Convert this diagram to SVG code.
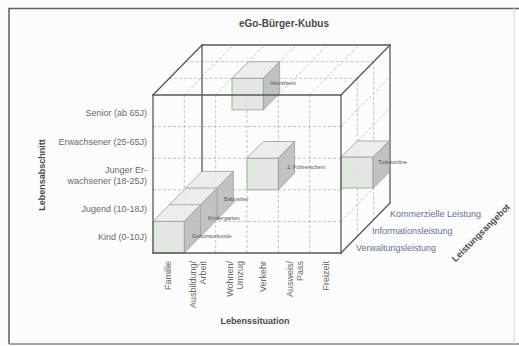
<svg xmlns="http://www.w3.org/2000/svg" width="519" height="346" viewBox="0 0 519 346">
<style>
.lbl{font-family:"Liberation Sans",Arial,sans-serif;font-size:9px;fill:#6a6a6a}
.rl{font-family:"Liberation Sans",Arial,sans-serif;font-size:9px;fill:#66728e}
.ttl{font-family:"Liberation Sans",Arial,sans-serif;font-size:9px;font-weight:bold;fill:#4a4a4a}
.tiny{font-family:"Liberation Sans",Arial,sans-serif;font-size:5.5px;fill:#555}
.dash{stroke:#b4b4b4;stroke-width:0.8;stroke-dasharray:3 2;fill:none}
.edge{stroke:#585858;stroke-width:1.3;fill:none;stroke-linecap:round}
.bf{fill:#e0e4df;fill-opacity:0.9;stroke:#9a9e9a;stroke-width:0.8}
.bt{fill:#e9ece8;fill-opacity:0.9;stroke:#9a9e9a;stroke-width:0.8}
.bs{fill:#b9bdb8;fill-opacity:0.9;stroke:#9a9e9a;stroke-width:0.8}
.bl{stroke:#9a9e9a;stroke-width:0.8;fill:none}
</style>
<rect x="0" y="0" width="519" height="346" fill="#fcfcfc"/>
<g id="frame" fill="none" stroke-width="1.5">
<line x1="9" y1="8.5" x2="519" y2="8.5" stroke="#5c5c6c"/>
<line x1="9" y1="8" x2="9" y2="344" stroke="#5c5c5c"/>
<line x1="9" y1="344" x2="519" y2="344" stroke="#8a8a8a"/>
<line x1="514" y1="8" x2="514" y2="344" stroke="#d8d8d8" stroke-width="1"/>
</g>
<text class="ttl" x="284" y="27" text-anchor="middle" font-size="10" style="font-size:10px">eGo-Bürger-Kubus</text>
<g id="grid">
<!-- front face -->
<path class="dash" d="M184.3,95V253M215.7,95V253M247,95V253M278.3,95V253M309.7,95V253"/>
<path class="dash" d="M153,126.6H341M153,158.2H341M153,189.8H341M153,221.4H341"/>
<!-- top face -->
<path class="dash" d="M184.3,95L233.3,45M215.7,95L264.7,45M247,95L296,45M278.3,95L327.3,45M309.7,95L358.7,45"/>
<path class="dash" d="M169.3,78.3H357.3M185.7,61.7H373.7"/>
<!-- right face -->
<path class="dash" d="M357.3,78.3V236.3M373.7,61.7V219.7"/>
<path class="dash" d="M341,126.6L390,76.6M341,158.2L390,108.2M341,189.8L390,139.8M341,221.4L390,171.4"/>
</g>
<g id="cube-back">
<line class="edge" x1="202" y1="45" x2="390" y2="45" stroke="#62707e"/>
<line class="edge" x1="390" y1="45" x2="390" y2="203"/>
<line class="edge" x1="202" y1="45" x2="202" y2="172"/>
</g>
<g id="box-altersheim">
<rect class="bf" x="232" y="78.3" width="31.3" height="31.6"/>
<polygon class="bt" points="232,78.3 263.3,78.3 279.6,61.7 248.3,61.7"/>
<polygon class="bs" points="263.3,78.3 279.6,61.7 279.6,93.3 263.3,109.9"/>
<text class="tiny" x="270" y="85">Altersheim</text>
</g>
<g id="box-fuehrerschein">
<rect class="bf" x="247" y="158.2" width="31.3" height="31.6"/>
<polygon class="bt" points="247,158.2 278.3,158.2 294.6,141.5 263.3,141.5"/>
<polygon class="bs" points="278.3,158.2 294.6,141.5 294.6,173.1 278.3,189.8"/>
<text class="tiny" x="287" y="168.5">1. Führerschein</text>
</g>
<g id="box-ticket">
<rect class="bf" x="341" y="157" width="32" height="31"/>
<polygon class="bt" points="341,157 373,157 389.3,141 357.3,141"/>
<polygon class="bs" points="373,157 389.3,141 389.3,172 373,188"/>
<text class="tiny" x="378" y="164">Ticketonline</text>
</g>
<g id="box-kind">
<rect class="bf" x="153" y="221.4" width="31.3" height="31.6"/>
<polygon class="bt" points="153,221.4 184.3,221.4 233.3,171.4 202,171.4"/>
<polygon class="bs" points="184.3,221.4 233.3,171.4 233.3,203 184.3,253"/>
<path class="bl" d="M169.3,204.7H200.6M185.7,188H217M200.6,204.7V236.3M217,188V219.7"/>
<text class="tiny" x="192" y="238">Geburtsurkunde</text>
<text class="tiny" x="208" y="220">Kindergarten</text>
<text class="tiny" x="224" y="201">Babysitter</text>
</g>
<g id="cube-front">
<line class="edge" x1="153" y1="95" x2="202" y2="45"/>
<line class="edge" x1="341" y1="95" x2="390" y2="45"/>
<line class="edge" x1="153" y1="95" x2="341" y2="95" stroke="#6a5656"/>
<line class="edge" x1="153" y1="95" x2="153" y2="253"/>
<line class="edge" x1="341" y1="95" x2="341" y2="253"/>
<line class="edge" x1="153" y1="253" x2="341" y2="253" stroke="#8a5a48"/>
<line class="edge" x1="341" y1="253" x2="390" y2="203"/>
</g>
<g id="axis-lebensabschnitt">
<text class="lbl" x="147" y="116" text-anchor="end">Senior (ab 65J)</text>
<text class="lbl" x="147" y="145" text-anchor="end">Erwachsener (25-65J)</text>
<text class="lbl" x="147" y="172.5" text-anchor="end">Junger Er-</text>
<text class="lbl" x="147" y="183.5" text-anchor="end">wachsener (18-25J)</text>
<text class="lbl" x="147" y="211.5" text-anchor="end">Jugend (10-18J)</text>
<text class="lbl" x="147" y="240" text-anchor="end">Kind (0-10J)</text>
<text class="ttl" transform="translate(45,175) rotate(-90)" text-anchor="middle">Lebensabschnitt</text>
</g>
<g id="axis-lebenssituation">
<text class="lbl" transform="translate(170.5,261) rotate(-90)" text-anchor="end">Familie</text>
<text class="lbl" transform="translate(196,261) rotate(-90)" text-anchor="end">Ausbildung/</text>
<text class="lbl" transform="translate(205.5,261) rotate(-90)" text-anchor="end">Arbeit</text>
<text class="lbl" transform="translate(233,261) rotate(-90)" text-anchor="end">Wohnen/</text>
<text class="lbl" transform="translate(242.5,261) rotate(-90)" text-anchor="end">Umzug</text>
<text class="lbl" transform="translate(266,261) rotate(-90)" text-anchor="end">Verkehr</text>
<text class="lbl" transform="translate(293,261) rotate(-90)" text-anchor="end">Ausweis/</text>
<text class="lbl" transform="translate(302.5,261) rotate(-90)" text-anchor="end">Pass</text>
<text class="lbl" transform="translate(329,261) rotate(-90)" text-anchor="end">Freizeit</text>
<text class="ttl" x="255" y="324" text-anchor="middle">Lebenssituation</text>
</g>
<g id="axis-leistungsangebot">
<text class="rl" x="390" y="216.5">Kommerzielle Leistung</text>
<text class="rl" x="372" y="234">Informationsleistung</text>
<text class="rl" x="356" y="250.5">Verwaltungsleistung</text>
<text class="ttl" transform="translate(483,235) rotate(-45)" text-anchor="middle">Leistungsangebot</text>
</g>
</svg>
